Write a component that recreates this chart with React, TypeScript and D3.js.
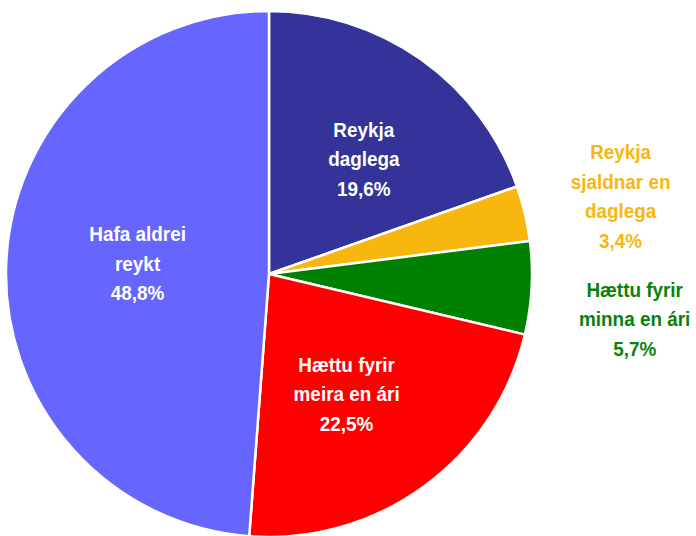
import { arc, pie } from 'd3';

const width = 696;
const height = 536;
const cx = 269;
const cy = 274;
const radius = 263;

const labels = [
	['Reykja', 'daglega'],
	['Reykja', 'sjaldnar en', 'daglega'],
	['Hættu fyrir', 'minna en ári'],
	['Hættu fyrir', 'meira en ári'],
	['Hafa aldrei', 'reykt'],
];
const values = [19.6, 3.4, 5.7, 22.5, 48.8];
const colors = ['#333399', '#F8B70E', '#008000', '#FF0000', '#6666FF'];
const textColors = ['#FFFFFF', '#F8B70E', '#0A820A', '#FFFFFF', '#FFFFFF'];

// label distance (fraction of radius) and small hand nudges, like dragged Excel labels
const labelRadius = [0.565, 1.37, 1.4, 0.545, 0.5];
const labelNudge = [
	[9, 6],
	[1, 5],
	[-2, 25],
	[-7, 4],
	[0, -6],
];

const fontSize = 21;
const lineHeight = 29.5;

const App = () => {
	const slices = pie<number>().sort(null).value(d => d)(values);
	const sliceArc = arc<any>().innerRadius(0).outerRadius(radius);

	return (
		<svg
			width={width}
			height={height}
			style={{ position: 'absolute', left: 0, top: 0, background: '#fff' }}
		>
			<g transform={`translate(${cx},${cy})`}>
				{slices.map((s, i) => (
					<path
						key={i}
						d={sliceArc(s) || ''}
						fill={colors[i]}
						stroke="#fff"
						strokeWidth={2.5}
						strokeLinejoin="round"
					/>
				))}
				{slices.map((s, i) => {
					const lr = radius * labelRadius[i];
					const [x0, y0] = arc<any>().innerRadius(lr).outerRadius(lr).centroid(s);
					const x = x0 + labelNudge[i][0];
					const y = y0 + labelNudge[i][1];
					const lines = [...labels[i], `${String(values[i]).replace('.', ',')}%`];
					const top = y - ((lines.length - 1) * lineHeight) / 2 + fontSize * 0.36;
					return (
						<g key={i} transform={`translate(${x},0) scale(0.9,1)`}>
							<text
								textAnchor="middle"
								fill={textColors[i]}
								style={{
									fontFamily: '"Liberation Sans", Arial, sans-serif',
									fontWeight: 'bold',
									fontSize,
								}}
							>
								{lines.map((t, j) => (
									<tspan key={j} x={0} y={top + j * lineHeight}>
										{t}
									</tspan>
								))}
							</text>
						</g>
					);
				})}
			</g>
		</svg>
	);
};

export default App;
